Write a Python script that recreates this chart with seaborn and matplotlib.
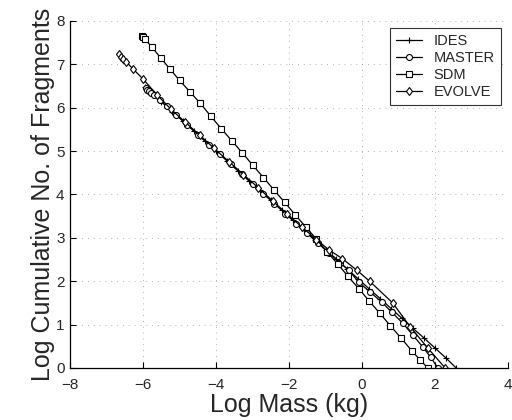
import seaborn as sns
import pandas as pd
import matplotlib.pyplot as plt

# IDES
ides_x = [-5.95, -5.90, -5.85, -5.80, -5.70, -5.50, -5.20, -4.90, -4.60, -4.30, -4.00,
          -3.70, -3.40, -3.10, -2.80, -2.50, -2.20, -1.90, -1.60, -1.30, -1.00, -0.70,
          -0.40, -0.10, 0.20, 0.50, 0.80, 1.10, 1.40, 1.70, 2.00, 2.30, 2.58]
ides_y = [6.48, 6.44, 6.40, 6.37, 6.29, 6.14, 5.91, 5.69, 5.46, 5.23, 5.00,
          4.78, 4.55, 4.32, 4.10, 3.87, 3.64, 3.41, 3.19, 2.96, 2.73, 2.51,
          2.28, 2.05, 1.82, 1.60, 1.37, 1.14, 0.91, 0.69, 0.46, 0.23, 0.0]

# MASTER
master_x = [-5.92, -5.88, -5.84, -5.78, -5.70, -5.55, -5.35, -5.10, -4.80, -4.50, -4.20,
            -3.90, -3.60, -3.30, -3.00, -2.70, -2.40, -2.10, -1.80, -1.50, -1.20, -0.90,
            -0.60, -0.36, -0.09, 0.22, 0.54, 0.81, 1.12, 1.39, 1.66, 1.88, 2.08]
master_y = [6.45, 6.42, 6.39, 6.35, 6.29, 6.18, 6.03, 5.84, 5.61, 5.38, 5.15,
            4.93, 4.70, 4.47, 4.24, 4.01, 3.79, 3.56, 3.33, 3.10, 2.87, 2.65,
            2.42, 2.25, 1.98, 1.75, 1.52, 1.29, 1.03, 0.76, 0.49, 0.25, 0.0]

# SDM
sdm_x = [-6.02, -5.99, -5.96, -5.76, -5.52, -5.26, -5.00, -4.72, -4.43, -4.15, -3.86,
         -3.57, -3.28, -2.99, -2.70, -2.41, -2.12, -1.83, -1.54, -1.25, -0.96, -0.67,
         -0.38, -0.09, 0.20, 0.49, 0.78, 1.07, 1.36, 1.60, 1.80]
sdm_y = [7.65, 7.62, 7.59, 7.40, 7.15, 6.89, 6.63, 6.37, 6.10, 5.81, 5.52,
         5.24, 4.96, 4.67, 4.39, 4.10, 3.82, 3.53, 3.25, 2.97, 2.68, 2.40,
         2.11, 1.83, 1.54, 1.26, 0.97, 0.69, 0.40, 0.18, 0.0]

# EVOLVE
evolve_x = [-6.67, -6.60, -6.55, -6.47, -6.27, -6.00, -5.62, -5.23, -4.85, -4.45, -4.05,
            -3.65, -3.25, -2.85, -2.45, -2.05, -1.65, -1.25, -0.90, -0.54, -0.15, 0.21,
            0.84, 1.32, 1.81, 2.28]
evolve_y = [7.23, 7.18, 7.13, 7.06, 6.89, 6.66, 6.30, 5.96, 5.67, 5.37, 5.06,
            4.76, 4.46, 4.16, 3.85, 3.55, 3.25, 2.96, 2.72, 2.52, 2.26, 2.0,
            1.5, 0.95, 0.45, 0.0]

series = [
    ("IDES", ides_x, ides_y, "+"),
    ("MASTER", master_x, master_y, "o"),
    ("SDM", sdm_x, sdm_y, "s"),
    ("EVOLVE", evolve_x, evolve_y, "d"),
]

sns.set_theme(style="white")
plt.rcParams["font.family"] = ["Liberation Sans", "DejaVu Sans"]
plt.rcParams["xtick.direction"] = "in"
plt.rcParams["ytick.direction"] = "in"

fig = plt.figure(figsize=(5.12, 4.2), dpi=100)
ax = fig.add_axes([0.137, 0.124, 0.855, 0.826])

for name, xs, ys, mk in series:
    df = pd.DataFrame({"x": xs, "y": ys})
    sns.lineplot(data=df, x="x", y="y", sort=False, estimator=None, ax=ax,
                 color="black", linewidth=0.9, marker=mk, markersize=4.3,
                 markerfacecolor="white", markeredgecolor="black",
                 markeredgewidth=0.8, label=name)

ax.set_xlim(-8, 4)
ax.set_ylim(0, 8)
ax.set_xticks([-8, -6, -4, -2, 0, 2, 4])
ax.set_yticks(range(0, 9))
ax.tick_params(axis="both", labelsize=11, length=4, width=0.8, color="black",
               left=True, bottom=True)
ax.tick_params(axis="x", pad=7)
ax.tick_params(axis="y", pad=4)
ax.grid(True, color="0.6", linestyle=(0, (1, 6)), linewidth=0.6)
for side in ["top", "right"]:
    ax.spines[side].set_visible(False)
for side in ["left", "bottom"]:
    ax.spines[side].set_color("black")
    ax.spines[side].set_linewidth(0.9)

ax.set_xlabel("Log Mass (kg)", fontsize=18, labelpad=1)
ax.set_ylabel("Log Cumulative No. of Fragments", fontsize=18, labelpad=1)

leg = ax.legend(loc="upper right", fontsize=10.5, frameon=True, fancybox=False,
                edgecolor="black", handlelength=1.8, borderpad=0.4,
                labelspacing=0.2, bbox_to_anchor=(1.0, 1.0))
leg.get_frame().set_linewidth(0.8)

plt.savefig("out.png", dpi=100)
